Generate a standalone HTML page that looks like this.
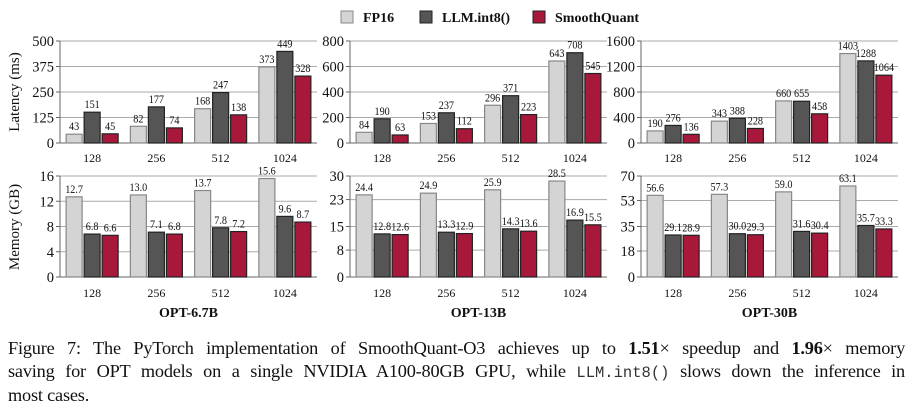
<!DOCTYPE html>
<html><head><meta charset="utf-8">
<style>
html,body{margin:0;padding:0;background:#fff;}
body{width:916px;height:414px;overflow:hidden;position:relative;font-family:"Liberation Serif",serif;}
#cap{position:absolute;left:8px;top:337px;width:897px;font-size:18.3px;line-height:22.5px;color:#111;}
#cap .ln{white-space:nowrap;text-align:justify;text-align-last:justify;letter-spacing:-0.2px;}
#cap .last{text-align-last:left;}
#cap code{font-family:"Liberation Mono",monospace;font-size:15.5px;color:#333;letter-spacing:0;}
</style></head><body>
<svg id="chart" width="916" height="330" style="position:absolute;left:0;top:0" xmlns="http://www.w3.org/2000/svg"></svg>
<div id="cap">
<div class="ln">Figure 7: The PyTorch implementation of SmoothQuant-O3 achieves up to <b>1.51</b>× speedup and <b>1.96</b>× memory</div>
<div class="ln">saving for OPT models on a single NVIDIA A100-80GB GPU, while <code>LLM.int8()</code> slows down the inference in</div>
<div class="ln last">most cases.</div>
</div>
<script>
const categories = ["128","256","512","1024"];
const seriesNames = ["FP16","LLM.int8()","SmoothQuant"];
const models = ["OPT-6.7B","OPT-13B","OPT-30B"];
const latFP16 = [[43,82,168,373],[84,153,296,643],[190,343,660,1403]];
const latInt8 = [[151,177,247,449],[190,237,371,708],[276,388,655,1288]];
const latSQ = [[45,74,138,328],[63,112,223,545],[136,228,458,1064]];
const memFP16 = [[12.7,13.0,13.7,15.6],[24.4,24.9,25.9,28.5],[56.6,57.3,59.0,63.1]];
const memInt8 = [[6.8,7.1,7.8,9.6],[12.8,13.3,14.3,16.9],[29.1,30.0,31.6,35.7]];
const memSQ = [[6.6,6.8,7.2,8.7],[12.6,12.9,13.6,15.5],[28.9,29.3,30.4,33.3]];
const latTicks = [[0,125,250,375,500],[0,200,400,600,800],[0,400,800,1200,1600]];
const memTicks = [[0,4,8,12,16],[0,8,15,23,30],[0,18,35,53,70]];
const memMax = [16,30,70];

const colors=["#d4d4d4","#555555","#a8183a"];
const strokes=["#888","#222","#222"];
const svg=document.getElementById('chart');
const NS="http://www.w3.org/2000/svg";
function el(t,a,p){const e=document.createElementNS(NS,t);for(const k in a)e.setAttribute(k,a[k]);(p||svg).appendChild(e);return e;}
function txt(x,y,s,size,anchor,weight,p){const e=el('text',{x:x,y:y,'font-size':size,'text-anchor':anchor||'middle','font-family':'"Liberation Serif",serif','font-weight':weight||'normal',fill:'#111'},p);e.textContent=s;return e;}

const legX=[341,420,533];
seriesNames.forEach((n,i)=>{
  const g=el('g',{});
  
  
  el('rect',{x:legX[i],y:11,width:12,height:12,fill:colors[i],stroke:strokes[i],'stroke-width':1},g);
  txt(legX[i]+22,22,n,14,'start','bold',g);
});

const px=[60,350,641], pw=257;
function panel(pi,rowTop,rowBot,max,ticks,vals,fmt,kind){
  const g=el('g',{});
  
  
  const x0=px[pi];
  const ys=v=>rowBot-(v/max)*(rowBot-rowTop);
  ticks.forEach(t=>{
    const y=ys(t);
    el('line',{x1:x0,x2:x0+pw,y1:y,y2:y,stroke:'#aaa','stroke-width':1},g);
    el('line',{x1:x0-4,x2:x0,y1:y,y2:y,stroke:'#666','stroke-width':1},g);
    txt(x0-6,y+5,String(t),14.5,'end','normal',g);
  });
  el('line',{x1:x0,x2:x0,y1:rowTop,y2:rowBot,stroke:'#666','stroke-width':1},g);
  el('line',{x1:x0,x2:x0+pw,y1:rowBot,y2:rowBot,stroke:'#666','stroke-width':1},g);
  const slot=pw/categories.length, bw=16, gap=2;
  categories.forEach((c,ci)=>{
    const cx=x0+slot*(ci+0.5);
    for(let s=0;s<3;s++){
      const v=vals[s][pi][ci];
      const bx=cx-(bw*1.5+gap)+s*(bw+gap);
      const y=ys(v);
      const r=el('rect',{x:bx,y:y,width:bw,height:rowBot-y,fill:colors[s],stroke:strokes[s],'stroke-width':1.2},g);
      
      
      const lab=txt(bx+bw/2,y-4,fmt?v.toFixed(1):String(v),12,'middle','normal',g);
      lab.setAttribute('transform','translate('+(bx+bw/2)+',0) scale(0.85,1) translate('+(-(bx+bw/2))+',0)');
    }
    txt(cx,rowBot+(kind==='latency'?19:20),c,12,'middle','normal',g);
  });
}
for(let pi=0;pi<3;pi++){
  panel(pi,41,143,latTicks[pi][4],latTicks[pi],[latFP16,latInt8,latSQ],0,'latency');
  panel(pi,176,277,memMax[pi],memTicks[pi],[memFP16,memInt8,memSQ],1,'memory');
  const t=txt(px[pi]+pw/2,317,models[pi],14,'middle','bold');
  
  
}
const ly=txt(0,0,'Latency (ms)',15,'middle');
ly.setAttribute('transform','translate(19,92) rotate(-90)');


const my=txt(0,0,'Memory (GB)',15,'middle');
my.setAttribute('transform','translate(19,227) rotate(-90)');


</script>
</body></html>
